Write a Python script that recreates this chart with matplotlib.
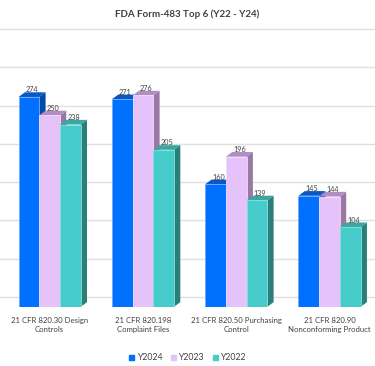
import matplotlib
matplotlib.use("Agg")
import matplotlib.pyplot as plt
from matplotlib.patches import Polygon, Patch

plt.rcParams['font.family'] = ['Lato', 'DejaVu Sans']

categories = ["21 CFR 820.30 Design\nControls", "21 CFR 820.198\nComplaint Files",
              "21 CFR 820.50 Purchasing\nControl", "21 CFR 820.90\nNonconforming Product"]
series = ["Y2024", "Y2023", "Y2022"]
y2024 = [274, 271, 160, 145]
y2023 = [250, 276, 196, 144]
y2022 = [238, 205, 139, 104]
grid_vals = [0, 50, 100, 150, 200, 250, 300, 350]

# front / top / side colours per series
front = ["#0070FF", "#E6C2FA", "#46CCCA"]
top = ["#0A58C8", "#B08EC4", "#38A8A0"]
side = ["#004AA8", "#9A78A4", "#2A8078"]
edge = ["#6FA8FF", "#F0DCFC", "#8ADEDC"]

W = 0.222      # bar width (category units)
DX = 0.0675    # 3d depth, x
DY = 6.1       # 3d depth, y (value units)
WALL = 12.8    # back wall offset for gridlines

fig = plt.figure(figsize=(3.75, 3.66), dpi=100)
ax = fig.add_axes([0, 0.1617, 1, 0.7617])
ax.set_xlim(-0.532, 3.487)
ax.set_ylim(0, 364)
ax.axis("off")

for g in grid_vals:
    ax.axhline(g + WALL, color="#E0E0E0", lw=1.0, zorder=0)

data = [y2024, y2023, y2022]
offsets = [-W, 0, W]
for i in range(len(categories)):
    for s in range(3):
        v = data[s][i]
        x0 = i + offsets[s] - W / 2
        x1 = x0 + W
        ax.add_patch(Polygon([(x1, 0), (x1 + DX, DY), (x1 + DX, v + DY), (x1, v)],
                             closed=True, fc=side[s], ec="none", zorder=2))
        ax.add_patch(Polygon([(x0, v), (x0 + DX, v + DY), (x1 + DX, v + DY), (x1, v)],
                             closed=True, fc=top[s], ec="none", zorder=2))
        ax.bar(x0, v, width=W, align="edge", color=front[s], edgecolor=edge[s],
               linewidth=0.6, zorder=2)
        ax.text(x0 + W / 2 + DX / 2, v + DY - 1.5, str(v), ha="center", va="bottom",
                fontsize=5.2, color="#404040", zorder=3)

for i, c in enumerate(categories):
    ax.text(i, -13, c, ha="center", va="top", fontsize=5.6, color="#404040",
            linespacing=1.45, clip_on=False)

fig.text(0.5, 1 - 14 / 366, "FDA Form-483 Top 6 (Y22 - Y24)", ha="center", va="center",
         fontsize=7, color="#404040", weight="bold")

handles = [Patch(color=front[s], label=series[s]) for s in range(3)]
fig.legend(handles=handles, loc="center", bbox_to_anchor=(0.5, 0.022), ncol=3,
           frameon=False, fontsize=6.3, handlelength=0.55, handleheight=0.55,
           handletextpad=0.3, columnspacing=1.0, labelcolor="#404040")

plt.savefig("out.png", dpi=100)
